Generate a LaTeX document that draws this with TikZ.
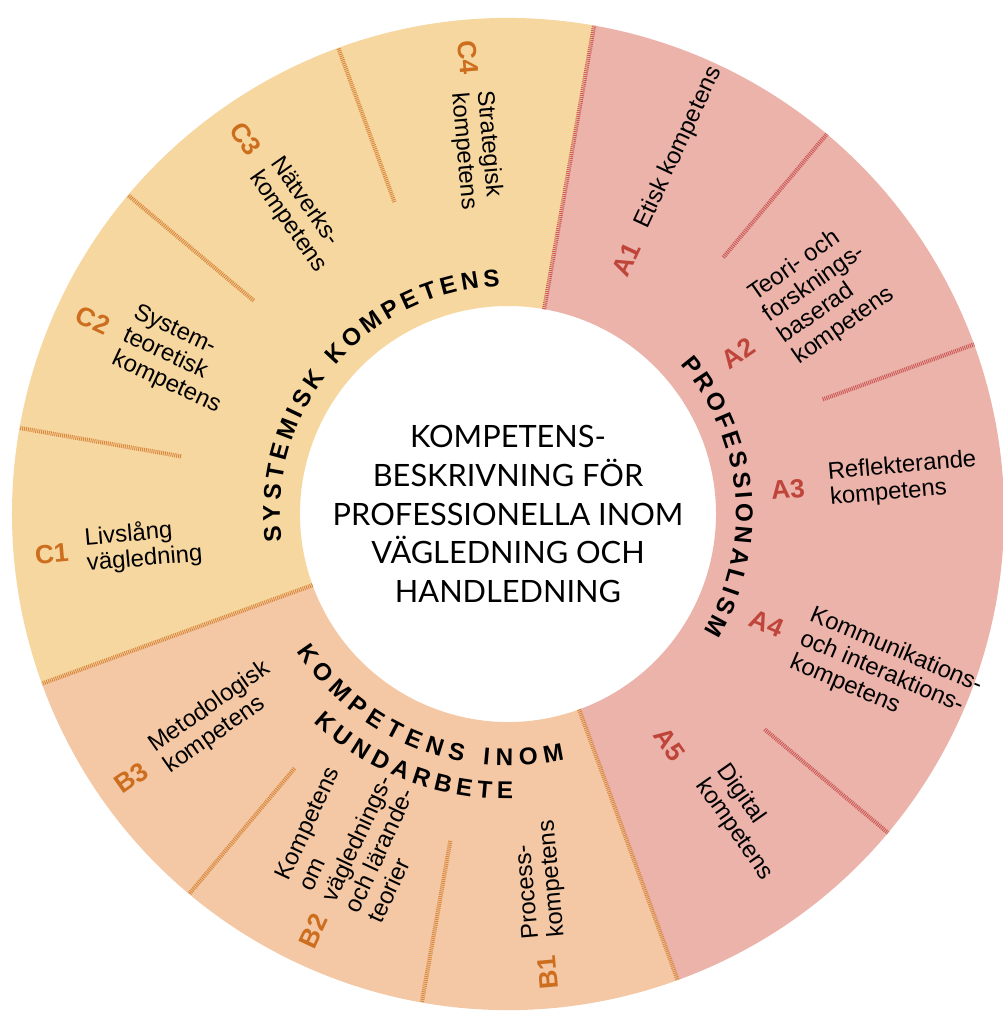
\documentclass[tikz,border=0pt]{standalone}
\usepackage{fontspec}
\setmainfont{Liberation Sans}
\newfontfamily\hubfont{Lato}
\usetikzlibrary{decorations.text}

\definecolor{sysfill}{HTML}{F7D7A0}
\definecolor{kundfill}{HTML}{F4C8A4}
\definecolor{proffill}{HTML}{EBB3AA}
\definecolor{orangetick}{HTML}{D9893E}
\definecolor{redtick}{HTML}{CC5A58}
\definecolor{orangecode}{HTML}{CD6E1F}
\definecolor{redcode}{HTML}{BF453B}
\newcommand\titlesty{\bfseries\fontsize{13.8}{14}\selectfont}

\begin{document}
\begin{tikzpicture}[x=0.02cm, y=0.02cm,
    code/.style={font=\bfseries\fontsize{15}{16}\selectfont, inner sep=0pt},
    acode/.style={code, text=redcode},
    bcode/.style={code, text=orangecode},
    comp/.style={font=\fontsize{13.6}{14.6}\selectfont, align=left, anchor=west, inner sep=0pt},
    tick/.style={line width=2.4pt, dash pattern=on 0.55pt off 0.55pt},
    ringtitle/.style={decorate, decoration={text along path, text align=fit to path, text={|\titlesty|#1}}}
]
\fill[white] (-508,-497) rectangle (494,514);
\useasboundingbox (-508,-497) rectangle (494,514);

% the three parts of the ring
\fill[proffill] (-70:208) -- (-70:496) arc[start angle=-70, end angle=80, radius=496] -- (80:208) arc[start angle=80, end angle=-70, radius=208] -- cycle;
\fill[sysfill] (80:208) -- (80:496) arc[start angle=80, end angle=200, radius=496] -- (200:208) arc[start angle=200, end angle=80, radius=208] -- cycle;
\fill[kundfill] (200:208) -- (200:496) arc[start angle=200, end angle=290, radius=496] -- (290:208) arc[start angle=290, end angle=200, radius=208] -- cycle;

% dividers
\draw[tick, redtick] (80:208) -- (80:496);
\draw[tick, orangetick] (-70:208) -- (-70:496);
\draw[tick, orangetick] (200:208) -- (200:496);
\foreach \a in {50,20,-40}
  \draw[tick, redtick] (\a:335) -- (\a:496);
\foreach \a in {110,140,170,230,260}
  \draw[tick, orangetick] (\a:332) -- (\a:496);

% centre
\node[font=\hubfont\fontsize{17.5}{22.1}\selectfont, align=center] (hub) at (0,0) {KOMPETENS-\\BESKRIVNING FÖR\\PROFESSIONELLA INOM\\VÄGLEDNING OCH\\HANDLEDNING};

% ring titles
\path[ringtitle=SYSTEMISK KOMPETENS] (187:228) arc[start angle=187, end angle=92, radius=228];
\path[ringtitle=PROFESSIONALISM] (41:228) arc[start angle=41, end angle=-31, radius=228];
\path[ringtitle=KOMPETENS INOM] (213:252) arc[start angle=213, end angle=283, radius=252];
\path[ringtitle=KUNDARBETE] (227:285) arc[start angle=227, end angle=271, radius=285];

% A
\node[acode, rotate=65] (a1) at (65:281) {A1};
\node[comp, rotate=65] (a1txt) at (65:316) {Etisk kompetens};
\node[acode, rotate=35] (a2) at (35:281) {A2};
\node[comp, rotate=35] (a2txt) at (35:324) {Teori- och\\forsknings-\\baserad\\kompetens};
\node[acode, rotate=5] (a3) at (5:281) {A3};
\node[comp, rotate=5] (a3txt) at (5:322) {Reflekterande\\kompetens};
\node[acode, rotate=-23] (a4) at (-23:281) {A4};
\node[comp, rotate=-23] (a4txt) at (-23:318) {Kommunikations-\\och interaktions-\\kompetens};
\node[acode, rotate=-55] (a5) at (-55:281) {A5};
\node[comp, rotate=-55] (a5txt) at (-52:330) {Digital\\kompetens};

% B
\node[bcode, rotate=95] (b1) at (275:460) {B1};
\node[comp, rotate=95] (b1txt) at (275:426) {Process-\\kompetens};
\node[bcode, rotate=65] (b2) at (245:460) {B2};
\node[comp, rotate=65] (b2txt) at (245:426) {Kompetens\\om\\väglednings-\\och lärande-\\teorier};
\node[bcode, rotate=35] (b3) at (215:460) {B3};
\node[comp, rotate=35] (b3txt) at (215:426) {Metodologisk\\kompetens};

% C
\node[bcode, rotate=5] (c1) at (185:458) {C1};
\node[comp, rotate=5] (c1txt) at (185:424) {Livslång\\vägledning};
\node[bcode, rotate=-25] (c2) at (155:458) {C2};
\node[comp, rotate=-25] (c2txt) at (155:424) {System-\\teoretisk\\kompetens};
\node[bcode, rotate=-55] (c3) at (125:458) {C3};
\node[comp, rotate=-55] (c3txt) at (125:424) {Nätverks-\\kompetens};
\node[bcode, rotate=-85] (c4) at (95:458) {C4};
\node[comp, rotate=-85] (c4txt) at (95:424) {Strategisk\\kompetens};
\end{tikzpicture}
\end{document}
